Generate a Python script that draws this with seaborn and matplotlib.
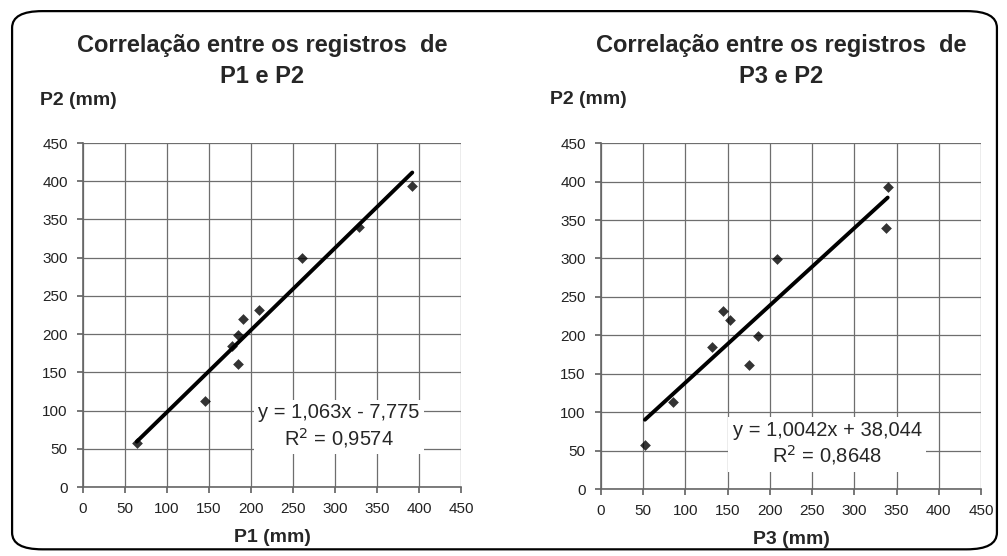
import matplotlib
matplotlib.use("Agg")
import matplotlib.pyplot as plt
from matplotlib.patches import FancyBboxPatch
import seaborn as sns
import pandas as pd

# valores (mm)
p2 = [57.5, 113, 185, 198.5, 161, 219.5, 232, 299.5, 340, 393.5]
p1 = [64, 145, 177.5, 184, 184, 190, 210, 261, 329, 392]
p3 = [52, 85, 131, 186, 175, 153, 144.5, 208, 337, 339.5]

ticks = [0, 50, 100, 150, 200, 250, 300, 350, 400, 450]

eq_left = "y = 1,063x - 7,775\nR$^2$ = 0,9574"
eq_right = "y = 1,0042x + 38,044\nR$^2$ = 0,8648"

df = pd.DataFrame({"P1": p1, "P2": p2, "P3": p3})

sns.set_theme(style="white")
plt.rcParams["font.family"] = ["Liberation Sans", "DejaVu Sans"]

fig = plt.figure(figsize=(10.07, 5.56), dpi=100)

# moldura arredondada
border = FancyBboxPatch((0.012, 0.012), 0.978, 0.968,
                        boxstyle="round,pad=0,rounding_size=0.03",
                        transform=fig.transFigure, fill=False,
                        edgecolor="black", linewidth=1.6)
fig.patches.append(border)

ax1 = fig.add_axes([0.0824, 0.1241, 0.3754, 0.6187])
ax2 = fig.add_axes([0.5968, 0.1205, 0.3774, 0.622])

panels = [
    (ax1, "P1", "Correlação entre os registros  de\nP1 e P2", "P1 (mm)", eq_left, (0.677, 0.176), -0.114),
    (ax2, "P3", "Correlação entre os registros  de\nP3 e P2", "P3 (mm)", eq_right, (0.595, 0.13), -0.134),
]

for ax, xcol, title, xlabel, eq, pos, ylab_x in panels:
    sns.regplot(x=xcol, y="P2", data=df, ax=ax, ci=None, marker="D",
                scatter_kws={"color": "black", "s": 30, "linewidths": 0, "zorder": 3},
                line_kws={"color": "black", "linewidth": 2.8, "zorder": 2})
    ax.set_xlim(0, 450)
    ax.set_ylim(0, 450)
    ax.set_xticks(ticks)
    ax.set_yticks(ticks)
    ax.grid(True, color="#6e6e6e", linewidth=0.9)
    ax.set_axisbelow(True)
    for side in ["top", "right"]:
        ax.spines[side].set_visible(False)
    for side in ["left", "bottom"]:
        ax.spines[side].set_color("#666666")
        ax.spines[side].set_linewidth(1.2)
    ax.tick_params(axis="both", labelsize=11, colors="#222222", length=4,
                   color="#666666", direction="out", left=True, bottom=True, pad=7)
    ax.set_xlabel(xlabel, fontsize=14, fontweight="bold", labelpad=9)
    ax.set_ylabel("")
    ax.set_title(title, fontsize=17, fontweight="bold", pad=43, linespacing=1.45, x=0.475)
    ax.text(ylab_x, 1.125, "P2 (mm)", transform=ax.transAxes, fontsize=14,
            fontweight="bold", ha="left", va="center")
    ax.text(pos[0], pos[1], eq, transform=ax.transAxes, fontsize=14.5,
            ha="center", va="center", linespacing=1.2, zorder=4,
            bbox=dict(facecolor="white", edgecolor="none", pad=3))

fig.savefig("out.png", dpi=100)
